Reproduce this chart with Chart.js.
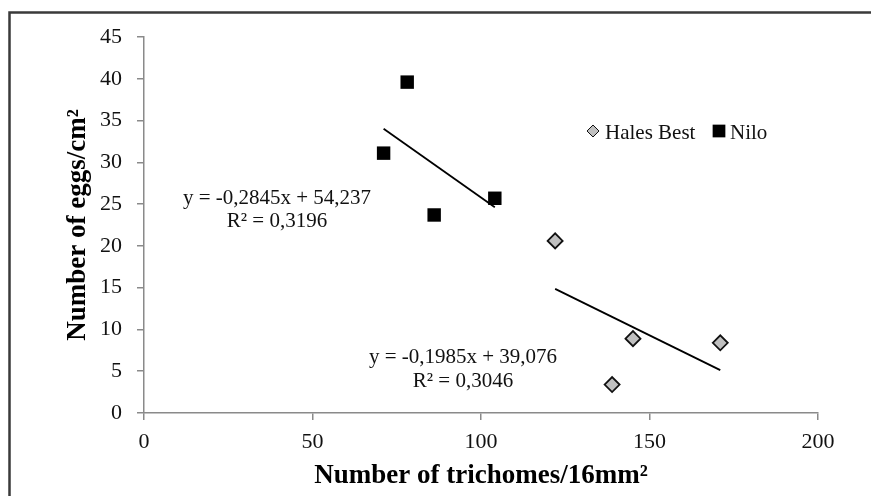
<!DOCTYPE html>
<html>
<head>
<meta charset="utf-8">
<script src="https://cdn.jsdelivr.net/npm/chart.js@4/dist/chart.umd.min.js"></script>
<style>
  body { margin: 0; background: #fff; }
  #wrap { width: 871px; height: 496px; position: relative; }
</style>
</head>
<body>
<div id="wrap"><canvas id="eggChart" width="871" height="496"></canvas></div>
<script>
// data
const seriesNames = ['Hales Best', 'Nilo'];
const halesX = [122.0, 138.9, 145.1, 171.0];
const halesY = [20.6, 3.4, 8.9, 8.4];
const niloX = [71.1, 78.1, 86.1, 104.1];
const niloY = [31.1, 39.6, 23.7, 25.7];

// linear trend lines as printed on the chart
const trendSlope = [-0.1985, -0.2845];
const trendIntercept = [39.076, 54.237];
const trendText = [
  ['y = -0,1985x + 39,076', 'R\u00b2 = 0,3046'],
  ['y = -0,2845x + 54,237', 'R\u00b2 = 0,3196']
];

const xTicks = [0, 50, 100, 150, 200];
const yTicks = [0, 5, 10, 15, 20, 25, 30, 35, 40, 45];

const serif = "'Liberation Serif', 'Times New Roman', serif";

function toPoints(xs, ys) {
  return xs.map((x, i) => ({ x: x, y: ys[i] }));
}

// trend line spans the x range of its own series
function trendPoints(xs, k) {
  const lo = Math.min(...xs), hi = Math.max(...xs);
  return [lo, hi].map(x => ({ x: x, y: trendSlope[k] * x + trendIntercept[k] }));
}

// frame, equations and the little legend
const extras = {
  id: 'extras',
  beforeDraw(chart) {
    const ctx = chart.ctx;
    ctx.save();
    ctx.fillStyle = '#fff';
    ctx.fillRect(0, 0, chart.width, chart.height);
    ctx.strokeStyle = '#3a3a3a';
    ctx.lineWidth = 2.5;
    ctx.beginPath();
    ctx.moveTo(9.5, 600);
    ctx.lineTo(9.5, 12.5);
    ctx.lineTo(900, 12.5);
    ctx.stroke();
    ctx.restore();
  },
  afterDraw(chart) {
    const ctx = chart.ctx;
    ctx.save();
    ctx.font = '21px ' + serif;
    ctx.fillStyle = '#111';
    ctx.textAlign = 'center';
    ctx.textBaseline = 'alphabetic';
    // Nilo equation (upper left), Hales Best equation (lower middle)
    ctx.fillText(trendText[1][0], 277, 204);
    ctx.fillText(trendText[1][1], 277, 227);
    ctx.fillText(trendText[0][0], 463, 363);
    ctx.fillText(trendText[0][1], 463, 387);

    // legend
    ctx.textAlign = 'left';
    ctx.fillStyle = '#c0c0c0';
    ctx.strokeStyle = '#111';
    Chart.helpers.drawPoint(ctx, { pointStyle: 'rectRot', radius: 6, rotation: 0, borderWidth: 1.6 }, 593, 131);
    ctx.fillStyle = '#000';
    Chart.helpers.drawPoint(ctx, { pointStyle: 'rect', radius: 9, rotation: 0, borderWidth: 0 }, 719, 131);
    ctx.fillStyle = '#111';
    ctx.fillText(seriesNames[0], 605, 139);
    ctx.fillText(seriesNames[1], 730, 139);
    ctx.restore();
  }
};

const axisGrey = '#8a8a8a';

new Chart(document.getElementById('eggChart'), {
  type: 'scatter',
  data: {
    datasets: [
      {
        label: seriesNames[0],
        data: toPoints(halesX, halesY),
        pointStyle: 'rectRot',
        pointRadius: 7.5,
        pointHoverRadius: 7.5,
        backgroundColor: '#c0c0c0',
        borderColor: '#111',
        borderWidth: 1.8
      },
      {
        label: seriesNames[1],
        data: toPoints(niloX, niloY),
        pointStyle: 'rect',
        pointRadius: 9.5,
        pointHoverRadius: 9.5,
        backgroundColor: '#000',
        borderColor: '#000',
        borderWidth: 0
      },
      {
        type: 'line',
        label: 'trend Hales Best',
        data: trendPoints(halesX, 0),
        borderColor: '#000',
        borderWidth: 1.8,
        pointRadius: 0,
        fill: false
      },
      {
        type: 'line',
        label: 'trend Nilo',
        data: trendPoints(niloX, 1),
        borderColor: '#000',
        borderWidth: 1.8,
        pointRadius: 0,
        fill: false
      }
    ]
  },
  options: {
    responsive: false,
    animation: false,
    layout: { padding: { top: 37, right: 53, left: 0, bottom: 0 } },
    plugins: {
      legend: { display: false },
      tooltip: { enabled: false }
    },
    scales: {
      x: {
        type: 'linear',
        min: xTicks[0],
        max: xTicks[xTicks.length - 1],
        afterBuildTicks: s => { s.ticks = xTicks.map(v => ({ value: v })); },
        afterFit: s => { s.height = 83; },
        grid: { drawOnChartArea: false, color: axisGrey, lineWidth: 1.5, tickLength: 7 },
        border: { color: axisGrey, width: 1.5 },
        ticks: { color: '#111', font: { family: serif, size: 22 }, padding: 9, maxRotation: 0 },
        title: {
          display: true,
          text: 'Number of trichomes/16mm\u00b2',
          color: '#000',
          font: { family: serif, size: 27, weight: 'bold' },
          padding: { top: 0, bottom: 4 }
        }
      },
      y: {
        type: 'linear',
        min: yTicks[0],
        max: yTicks[yTicks.length - 1],
        afterBuildTicks: s => { s.ticks = yTicks.map(v => ({ value: v })); },
        afterFit: s => { s.width = 144; },
        grid: { drawOnChartArea: false, color: axisGrey, lineWidth: 1.5, tickLength: 7 },
        border: { color: axisGrey, width: 1.5 },
        ticks: { color: '#111', font: { family: serif, size: 22 }, padding: 15 },
        title: {
          display: true,
          text: 'Number of eggs/cm\u00b2',
          color: '#000',
          font: { family: serif, size: 27, weight: 'bold' },
          padding: { top: 62, bottom: 0 }
        }
      }
    }
  },
  plugins: [extras]
});
</script>
</body>
</html>
